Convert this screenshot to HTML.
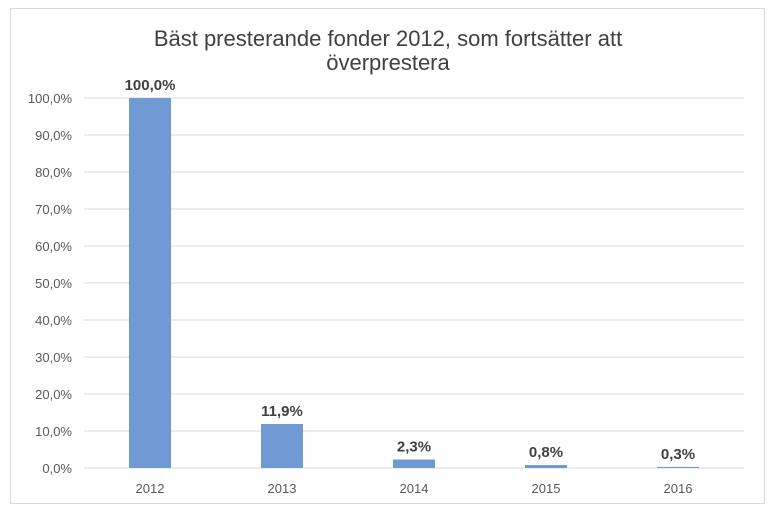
<!DOCTYPE html>
<html><head><meta charset="utf-8"><style>
body{margin:0;background:#fff;font-family:"Liberation Sans",sans-serif;}
#frame{position:absolute;left:10px;top:8px;width:755px;height:496px;border:1px solid #d9d9d9;box-sizing:border-box;}
</style></head><body>
<div id="frame"></div>
<svg id="chart" width="776" height="515" style="position:absolute;left:0;top:0">
<text x="388" y="46" text-anchor="middle" font-size="22" fill="#404040">Bäst presterande fonder 2012, som fortsätter att</text>
<text x="388" y="70" text-anchor="middle" font-size="22" fill="#404040">överprestera</text>
<g id="grid"></g><g id="bars"></g><g id="labels"></g>
</svg>
<script>
const categories=["2012","2013","2014","2015","2016"];
const values=[100,11.9,2.3,0.8,0.3];
const valueLabels=["100,0%","11,9%","2,3%","0,8%","0,3%"];
const ticks=[0,10,20,30,40,50,60,70,80,90,100];
const tickLabels=["0,0%","10,0%","20,0%","30,0%","40,0%","50,0%","60,0%","70,0%","80,0%","90,0%","100,0%"];
const NS="http://www.w3.org/2000/svg";
const left=84,right=744,y0=468,y100=98;
const y=v=>y0-(v/100)*(y0-y100);
const band=(right-left)/categories.length;
const x=i=>left+band*(i+0.5);
function mk(t,a,parent){const e=document.createElementNS(NS,t);for(const k in a)e.setAttribute(k,a[k]);document.getElementById(parent).appendChild(e);return e;}
ticks.forEach((t,i)=>{
 const l=mk("line",{x1:left,x2:right,y1:y(t),y2:y(t),stroke:"#d9d9d9","stroke-width":1},"grid");
 
 
 const tx=mk("text",{x:72,y:y(t)+5,"text-anchor":"end","font-size":13,fill:"#595959"},"grid");
 tx.textContent=tickLabels[i];
 
 
});
categories.forEach((c,i)=>{
 const b=mk("rect",{x:x(i)-21,y:y(values[i]),width:42,height:y0-y(values[i]),fill:"#6f9ad4"},"bars");
 
 
 const v=mk("text",{x:x(i),y:y(values[i])-8,"text-anchor":"middle","font-size":15,"font-weight":"bold",fill:"#404040"},"labels");
 v.textContent=valueLabels[i];
 
 
 const cl=mk("text",{x:x(i),y:493,"text-anchor":"middle","font-size":13,fill:"#595959"},"labels");
 cl.textContent=c;
 
 
});
</script>
</body></html>
